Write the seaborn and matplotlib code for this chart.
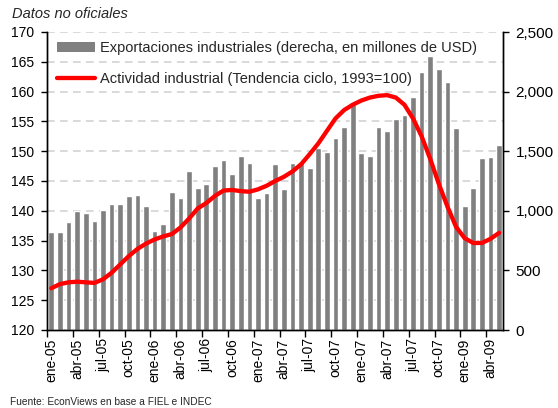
import numpy as np
import pandas as pd
import matplotlib
matplotlib.use("Agg")
import matplotlib.pyplot as plt
import seaborn as sns
from matplotlib.ticker import MultipleLocator, FuncFormatter, FixedLocator
from matplotlib.patches import Patch
from matplotlib.lines import Line2D

# ---------------- data ----------------
meses = ["ene", "feb", "mar", "abr", "may", "jun", "jul", "ago", "sep", "oct", "nov", "dic"]
months = [f"{meses[m % 12]}-{5 + m // 12:02d}" for m in range(53)]  # ene-05 .. may-09

exportaciones = [825, 825, 906, 998, 984, 917, 1007, 1060, 1060, 1127, 1135, 1043,
                 833, 892, 1160, 1110, 1337, 1191, 1225, 1378, 1429, 1311, 1462, 1404,
                 1110, 1152, 1395, 1186, 1404, 1412, 1362, 1524, 1496, 1613, 1706, 1907,
                 1487, 1460, 1706, 1669, 1770, 1804, 1955, 2164, 2299, 2190, 2081, 1695,
                 1043, 1191, 1440, 1454, 1552]

actividad = [127.0, 127.7, 128.0, 128.1, 128.0, 127.9, 128.5, 129.6, 131.0, 132.4, 133.6, 134.5,
             135.2, 135.7, 136.1, 137.2, 138.7, 140.4, 141.3, 142.5, 143.4, 143.5, 143.3, 143.2,
             143.6, 144.2, 145.0, 145.7, 146.6, 147.8, 149.5, 151.3, 153.4, 155.5, 156.9, 157.8,
             158.5, 159.0, 159.3, 159.4, 159.0, 157.8, 155.5, 152.5, 148.7, 144.5, 140.7, 137.3,
             135.4, 134.6, 134.6, 135.3, 136.3]

tick_labels = ["ene-05", "abr-05", "jul-05", "oct-05", "ene-06", "abr-06", "jul-06", "oct-06",
               "ene-07", "abr-07", "jul-07", "oct-07", "ene-07", "abr-07", "jul-07", "oct-07",
               "ene-09", "abr-09"]

label_bars = "Exportaciones industriales (derecha, en millones de USD)"
label_line = "Actividad industrial (Tendencia ciclo, 1993=100)"

df = pd.DataFrame({"mes": months, "pos": np.arange(len(months)),
                   "exportaciones": exportaciones, "actividad": actividad})

# ---------------- style ----------------
sns.set_style("white")
plt.rcParams["font.family"] = ["Liberation Sans", "DejaVu Sans"]

W, H = 558, 408
fig = plt.figure(figsize=(W / 100, H / 100), dpi=100)
L, R, T, B = 47, 503, 32, 330
ax_bar = fig.add_axes([L / W, 1 - B / H, (R - L) / W, (B - T) / H])

BAR = "#808080"
RED = "#ff0000"

sns.barplot(data=df, x="mes", y="exportaciones", order=months, color=BAR,
            saturation=1, width=0.66, ax=ax_bar, errorbar=None)

ax_line = ax_bar.twinx()
sns.lineplot(data=df, x="pos", y="actividad", color=RED, linewidth=3.1,
             ax=ax_line, sort=False)

# y axes: bars on the right, line on the left
ax_bar.yaxis.tick_right()
ax_bar.yaxis.set_label_position("right")
ax_line.yaxis.tick_left()
ax_line.yaxis.set_label_position("left")

ax_bar.set_ylim(0, 2500)
ax_line.set_ylim(120, 170)
ax_bar.set_xlim(-0.5, 52.45)

ax_bar.yaxis.set_major_locator(MultipleLocator(500))
ax_bar.yaxis.set_minor_locator(MultipleLocator(250))
ax_bar.yaxis.set_major_formatter(FuncFormatter(lambda v, p: f"{int(v):,}"))
ax_line.yaxis.set_major_locator(MultipleLocator(5))

ax_bar.set_axisbelow(True)
ax_bar.grid(axis="y", which="both", color="#cfcfcf", linestyle=(0, (5, 3.5)), linewidth=1.1)
ax_bar.grid(axis="x", visible=False)
ax_line.grid(False)

# x ticks
ax_bar.set_xticks(np.arange(0, len(months), 3))
ax_bar.set_xticklabels(tick_labels, rotation=90)
ax_bar.xaxis.set_minor_locator(FixedLocator(np.arange(-0.5, len(months) - 1, 3)))

ax_bar.tick_params(axis="x", which="major", length=0, pad=6, labelsize=10, colors="black")
ax_bar.tick_params(axis="x", which="minor", length=5, width=1, direction="out",
                   bottom=True, color="black")
ax_bar.tick_params(axis="y", which="major", right=True, left=False, length=4, width=1,
                   direction="out", labelsize=11, pad=5, colors="black")
ax_bar.tick_params(axis="y", which="minor", length=0)
ax_line.tick_params(axis="y", which="major", left=True, right=False, length=4, width=1,
                    direction="out", labelsize=10, pad=5, colors="black")

for a in (ax_bar, ax_line):
    a.set_xlabel("")
    a.set_ylabel("")
    a.spines["top"].set_visible(False)
    for s in ("left", "right", "bottom"):
        a.spines[s].set_color("black")
        a.spines[s].set_linewidth(1)

# legend
handles = [Patch(facecolor=BAR, edgecolor="none"),
           Line2D([0], [0], color=RED, linewidth=3.1)]
ax_line.legend(handles, [label_bars, label_line], loc="upper left",
               bbox_to_anchor=((57 - L) / (R - L), (B - 41) / (B - T)),
               frameon=False, fontsize=10.5, handlelength=2.6, handletextpad=0.35,
               labelspacing=1.15, borderpad=0, borderaxespad=0)

fig.text(12 / W, 1 - 14 / H, "Datos no oficiales", fontsize=10.5, style="italic",
         ha="left", va="center")
fig.text(10 / W, 1 - 402 / H, "Fuente: EconViews en base a FIEL e INDEC", fontsize=7.3,
         ha="left", va="center")

fig.savefig("out.png", dpi=100)
